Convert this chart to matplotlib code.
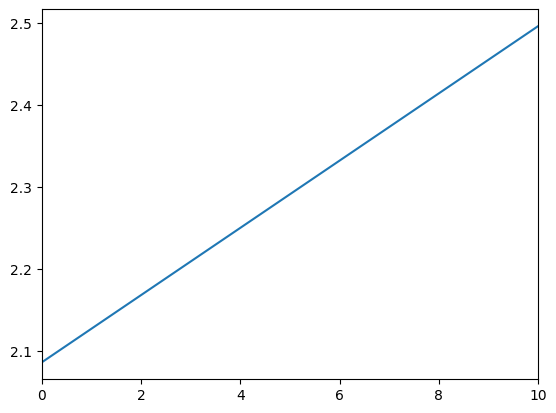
import matplotlib
matplotlib.use("Agg")
import matplotlib.pyplot as plt

# values
x_values = [0, 2, 4, 6, 8, 10]
y_values = [2.0865, 2.1685, 2.2505, 2.3325, 2.4145, 2.4965]

fig = plt.figure(figsize=(5.56, 4.13), dpi=100)
ax = fig.add_axes([42 / 556, 34 / 413, 496 / 556, 369.6 / 413])

ax.plot(x_values, y_values, color="#1f77b4", linewidth=1.5)
ax.set_xlim(0, 10)

fig.savefig("out.png", dpi=100)
